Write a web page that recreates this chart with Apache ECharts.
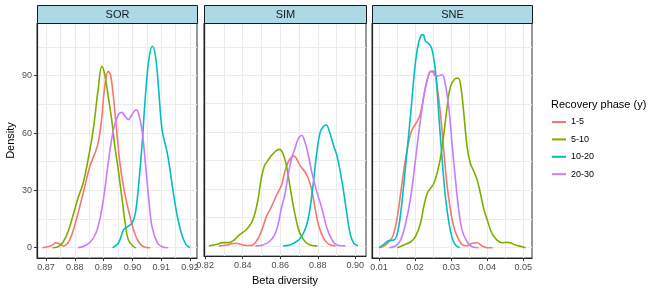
<!DOCTYPE html>
<html>
<head>
<meta charset="utf-8">
<script src="https://cdn.jsdelivr.net/npm/echarts@6/dist/echarts.min.js"></script>
<style>
  html, body { margin: 0; padding: 0; background: #fff; }
  #chart { width: 652px; height: 291px; }
</style>
</head>
<body>
<div id="chart"></div>
<script>
// facet names and groups
const panels = ['SOR', 'SIM', 'SNE'];
const groups = ['1-5', '5-10', '10-20', '20-30'];
const groupColors = ['#F8766D', '#7CAE00', '#00BFC4', '#C77CFF'];

// density curves: [beta diversity, density]
const SOR_1_5 = [[0.8688,0],[0.872,1.2],[0.8735,2.6],[0.8748,1.9],[0.876,0.9],[0.8782,4],[0.8805,14.5],[0.8829,28.5],[0.8852,42.5],[0.887,49.5],[0.8881,54.7],[0.8893,67],[0.8904,84.4],[0.8916,92.3],[0.8924,90.5],[0.8934,79],[0.8945,61.7],[0.8957,44],[0.8969,32],[0.8986,19.8],[0.9004,9.3],[0.9021,3.1],[0.9039,0.5],[0.9062,0]];
const SOR_5_10 = [[0.8723,0],[0.8747,0.9],[0.877,5.8],[0.8793,16.3],[0.8811,25.9],[0.8829,33.7],[0.8846,46],[0.8864,61.7],[0.8881,82.7],[0.8894,94.9],[0.8904,90.5],[0.8916,79.2],[0.8928,67],[0.8939,53],[0.8951,40.7],[0.8963,26.7],[0.8975,12.8],[0.8986,4],[0.9004,0.5],[0.9013,0]];
const SOR_10_20 = [[0.8931,0],[0.8951,2.3],[0.8969,9.3],[0.898,10.7],[0.8998,12.8],[0.901,18],[0.9021,32],[0.9033,53],[0.9045,79.2],[0.9057,98.4],[0.9069,105.4],[0.908,100.2],[0.9091,82.7],[0.9103,61.7],[0.9121,49.5],[0.9132,39],[0.9144,26.7],[0.9156,16.3],[0.917,7.5],[0.9185,1.9],[0.92,0]];
const SOR_20_30 = [[0.8811,0],[0.884,1.4],[0.8864,4.9],[0.8881,11],[0.8899,25],[0.8916,44.2],[0.8934,61.7],[0.8951,69.6],[0.8963,70.8],[0.8975,68.7],[0.8986,67],[0.8998,69.6],[0.9013,72.2],[0.9021,70.4],[0.9033,61.7],[0.9045,44.2],[0.9057,25],[0.9068,11],[0.9086,2.6],[0.9103,0.5],[0.9124,0]];

const SIM_1_5 = [[0.8274,0],[0.8319,0.5],[0.8364,1.4],[0.84,0.5],[0.8445,0.2],[0.8472,2.3],[0.8499,7.5],[0.8526,15.4],[0.8553,20.6],[0.858,26.7],[0.8607,32],[0.8624,39],[0.8642,44.2],[0.866,46.8],[0.8673,47.4],[0.8687,46],[0.8705,42.5],[0.8732,39],[0.875,35.5],[0.8768,29.4],[0.8786,19.8],[0.8804,11],[0.8831,4],[0.8858,0.9],[0.8894,0]];
const SIM_5_10 = [[0.822,0],[0.8265,0.9],[0.8292,1.7],[0.8328,1.7],[0.8355,3.1],[0.8382,5.8],[0.8418,8.4],[0.8445,11.9],[0.8463,16.3],[0.8481,24.1],[0.8499,35.5],[0.8517,42.5],[0.8535,45.1],[0.8553,47.7],[0.858,50.3],[0.8597,50.9],[0.8615,48.6],[0.8633,42.5],[0.8651,32],[0.8669,21.5],[0.8687,12.8],[0.8705,6.6],[0.8732,2.3],[0.8759,0.5],[0.8798,0]];
const SIM_10_20 = [[0.8616,0],[0.8651,0.5],[0.8687,2.3],[0.8714,4.9],[0.8741,11],[0.8759,19.8],[0.8777,33.7],[0.8795,49.5],[0.8813,60],[0.8831,63.1],[0.8845,63.8],[0.8863,60],[0.8884,53],[0.8902,47.7],[0.892,39],[0.8938,28.5],[0.8956,16.3],[0.8974,5.8],[0.8992,1.4],[0.9014,0]];
const SIM_20_30 = [[0.8468,0],[0.8507,0.5],[0.8543,2.3],[0.857,5.8],[0.8588,11],[0.8606,19.8],[0.8624,26.7],[0.8642,37.2],[0.866,46],[0.8678,51.2],[0.8696,56.5],[0.8714,58.2],[0.8732,54.7],[0.875,47.7],[0.8768,39],[0.8795,28.5],[0.8822,19.8],[0.8849,9.3],[0.8876,3.1],[0.8902,0.5],[0.8947,0]];

const SNE_1_5 = [[0.0102,0],[0.0118,1.4],[0.0132,4],[0.0141,7.5],[0.0151,16.3],[0.016,28.5],[0.0169,40.7],[0.0178,51.2],[0.0188,60],[0.0197,63.5],[0.0206,66.1],[0.0215,70.4],[0.0224,79.2],[0.0234,87.9],[0.0243,92.3],[0.0252,92.3],[0.0261,84.4],[0.0271,68.7],[0.028,49.5],[0.0289,32],[0.0298,19.8],[0.0307,11],[0.0317,5.8],[0.033,1.7],[0.0344,0.9],[0.0358,2.3],[0.0372,2.6],[0.0386,0.9],[0.04,0],[0.0415,0]];
const SNE_5_10 = [[0.0151,0],[0.0169,1.4],[0.0188,3.1],[0.0201,5.8],[0.0215,12.8],[0.0224,21.5],[0.0234,28.5],[0.0243,31.1],[0.0252,33.7],[0.0261,39],[0.0271,47.7],[0.028,60],[0.0289,73.9],[0.0298,84.4],[0.031,88.3],[0.0319,88.8],[0.0326,85.3],[0.0335,70.4],[0.0344,53],[0.0353,44.2],[0.0363,39.9],[0.0372,35.5],[0.0381,28.5],[0.039,20.6],[0.04,14.5],[0.0413,7.5],[0.0427,4],[0.0441,2.6],[0.0455,2.8],[0.0464,2.6],[0.0478,1.4],[0.0496,0.5],[0.0506,0]];
const SNE_10_20 = [[0.01,0],[0.0114,1.9],[0.0128,3.7],[0.0141,4],[0.0151,7.5],[0.016,18],[0.0169,33.7],[0.0178,51.2],[0.0188,70.4],[0.0197,89.7],[0.0206,103.7],[0.0215,110.6],[0.0222,111.5],[0.0229,108],[0.0238,106.8],[0.0247,103.7],[0.0257,91.4],[0.0266,68.7],[0.0275,46],[0.0284,26.7],[0.0294,12.8],[0.0303,4.9],[0.0312,1.4],[0.0323,0]];
const SNE_20_30 = [[0.0128,0],[0.0146,0.9],[0.016,4],[0.0174,12.8],[0.0188,26.7],[0.0201,46],[0.0215,67],[0.0229,84.4],[0.024,91.4],[0.0247,92.3],[0.0257,89.7],[0.0266,90],[0.0275,90.5],[0.0284,85.3],[0.0294,72.2],[0.0303,53],[0.0312,35.5],[0.0321,19.8],[0.033,9.3],[0.0344,3.1],[0.0358,0.5],[0.0376,0]];

// tick labels / grid lines
const xTicksSOR = [0.87, 0.88, 0.89, 0.90, 0.91, 0.92];
const xGridSOR = [0.87, 0.875, 0.88, 0.885, 0.89, 0.895, 0.90, 0.905, 0.91, 0.915, 0.92];
const xTicksSIM = [0.82, 0.84, 0.86, 0.88, 0.90];
const xGridSIM = [0.82, 0.83, 0.84, 0.85, 0.86, 0.87, 0.88, 0.89, 0.90];
const xTicksSNE = [0.01, 0.02, 0.03, 0.04, 0.05];
const xGridSNE = [0.01, 0.015, 0.02, 0.025, 0.03, 0.035, 0.04, 0.045, 0.05];
const yTicks = [0, 30, 60, 90];
const yGrid = [0, 15, 30, 45, 60, 75, 90, 105];

const curves = [
  [SOR_1_5, SOR_5_10, SOR_10_20, SOR_20_30],
  [SIM_1_5, SIM_5_10, SIM_10_20, SIM_20_30],
  [SNE_1_5, SNE_5_10, SNE_10_20, SNE_20_30]
];
const xTicks = [xTicksSOR, xTicksSIM, xTicksSNE];
const xGrids = [xGridSOR, xGridSIM, xGridSNE];

// panel layout (ggplot expanded ranges)
const panelBox = [
  {left: 37, width: 160, min: 0.8669, max: 0.9224},
  {left: 204, width: 162, min: 0.8194, max: 0.9057},
  {left: 372, width: 160, min: 0.00806, max: 0.0524}
];
const panelTop = 23, panelHeight = 235;
const yMin = -5.4, yMax = 117.6;

const FONT = 'Liberation Sans, Arial, sans-serif';
const chart = echarts.init(document.getElementById('chart'));

let grid = [], xAxis = [], yAxis = [], series = [], graphic = [];

panelBox.forEach((p, i) => {
  grid.push({left: p.left, top: panelTop, width: p.width, height: panelHeight,
    show: true, backgroundColor: '#fff', borderColor: '#333', borderWidth: 1});

  // axis only for grid lines
  xAxis.push({
    type: 'value', gridIndex: i, position: 'bottom', min: p.min, max: p.max,
    axisLine: {show: false}, axisLabel: {show: false},
    axisTick: {show: false, customValues: xGrids[i]},
    splitLine: {show: true, lineStyle: {color: '#ebebeb', width: 1}}
  });
  // axis with labels & ticks
  xAxis.push({
    type: 'value', gridIndex: i, position: 'bottom', min: p.min, max: p.max,
    axisLine: {show: true, onZero: false, lineStyle: {color: '#222', width: 1.2}},
    axisTick: {show: true, length: 3, customValues: xTicks[i], lineStyle: {color: '#333'}},
    axisLabel: {show: true, customValues: xTicks[i], margin: 5, fontSize: 9,
      color: '#4d4d4d', fontFamily: FONT, formatter: v => v.toFixed(2)},
    splitLine: {show: false},
    name: i === 1 ? 'Beta diversity' : '', nameLocation: 'middle', nameGap: 18,
    nameTextStyle: {fontSize: 11, color: '#000', fontFamily: FONT}
  });
  yAxis.push({
    type: 'value', gridIndex: i, position: 'left', min: yMin, max: yMax,
    axisLine: {show: false}, axisLabel: {show: false},
    axisTick: {show: false, customValues: yGrid},
    splitLine: {show: true, lineStyle: {color: '#ebebeb', width: 1}}
  });
  yAxis.push({
    type: 'value', gridIndex: i, position: 'left', min: yMin, max: yMax,
    axisLine: {show: true, onZero: false, lineStyle: {color: '#222', width: 1.2}},
    axisTick: {show: i === 0, length: 3, customValues: yTicks, lineStyle: {color: '#333'}},
    axisLabel: {show: i === 0, customValues: yTicks, margin: 5, fontSize: 9,
      color: '#4d4d4d', fontFamily: FONT},
    splitLine: {show: false},
    name: i === 0 ? 'Density' : '', nameLocation: 'middle', nameGap: 21,
    nameTextStyle: {fontSize: 11, color: '#000', fontFamily: FONT}
  });

  curves[i].forEach((d, g) => {
    series.push({
      name: groups[g], type: 'line', xAxisIndex: i * 2, yAxisIndex: i * 2,
      data: d, smooth: 0.4, showSymbol: false, symbol: 'none',
      lineStyle: {color: groupColors[g], width: 1.6},
      itemStyle: {color: groupColors[g]}, z: 3
    });
  });

  // facet strip
  graphic.push({
    type: 'group', left: p.left, top: 5, z: 100,
    children: [
      {type: 'rect', z: 100, shape: {x: 0, y: 0, width: p.width, height: 18},
        style: {fill: '#ADD8E6', stroke: '#1a1a1a', lineWidth: 1}},
      {type: 'text', z: 101, x: p.width / 2, y: 9,
        style: {text: panels[i], fill: '#1a1a1a', font: '11px ' + FONT,
          textAlign: 'center', textVerticalAlign: 'middle'}}
    ]
  });
});

const option = {
  backgroundColor: '#fff',
  animation: false,
  title: {
    text: 'Recovery phase (y)', left: 551, top: 99, padding: 0,
    textStyle: {fontSize: 11, fontWeight: 'normal', color: '#000', fontFamily: FONT}
  },
  legend: {
    orient: 'vertical', left: 552, top: 116, padding: 0, data: groups,
    icon: 'rect', itemWidth: 14, itemHeight: 2, itemGap: 5.4,
    textStyle: {fontSize: 9, color: '#000', fontFamily: FONT, lineHeight: 12}
  },
  grid: grid,
  xAxis: xAxis,
  yAxis: yAxis,
  series: series,
  graphic: graphic
};

chart.setOption(option);
</script>
</body>
</html>
